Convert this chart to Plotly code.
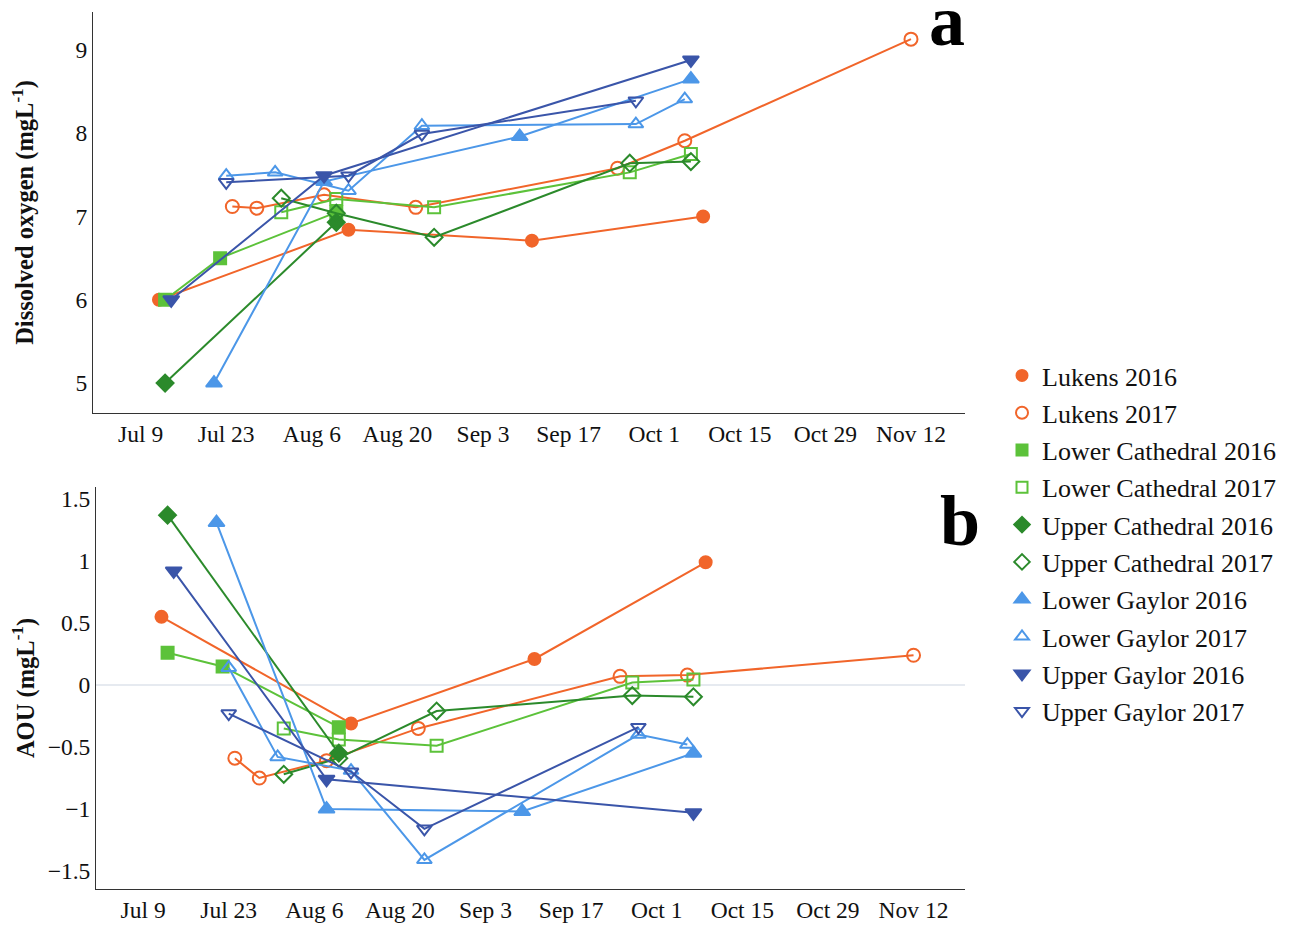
import plotly.graph_objects as go

# ---------------- data (month-day of sampling; DO in mg/L; AOU in mg/L) ----------------
series_names = ["Lukens 2016", "Lukens 2017", "Lower Cathedral 2016", "Lower Cathedral 2017",
                "Upper Cathedral 2016", "Upper Cathedral 2017", "Lower Gaylor 2016",
                "Lower Gaylor 2017", "Upper Gaylor 2016", "Upper Gaylor 2017"]

lukens_2016_dates = ["07-12", "08-12", "09-11", "10-09"]
lukens_2016_do = [6.00, 6.84, 6.71, 7.00]
lukens_2016_aou = [0.55, -0.31, 0.21, 0.99]

lukens_2017_dates = ["07-24", "07-28", "08-08", "08-23", "09-25", "10-06", "11-12"]
lukens_2017_do = [7.12, 7.10, 7.26, 7.11, 7.58, 7.91, 9.13]
lukens_2017_aou = [-0.59, -0.75, -0.61, -0.35, 0.07, 0.08, 0.24]

lower_cath_2016_dates = ["07-13", "07-22", "08-10"]
lower_cath_2016_do = [6.00, 6.50, 7.05]
lower_cath_2016_aou = [0.26, 0.15, -0.34]

lower_cath_2017_dates = ["08-01", "08-10", "08-26", "09-27", "10-07"]
lower_cath_2017_do = [7.05, 7.21, 7.11, 7.53, 7.75]
lower_cath_2017_aou = [-0.35, -0.44, -0.49, 0.02, 0.045]

upper_cath_2016_dates = ["07-13", "08-10"]
upper_cath_2016_do = [5.00, 6.93]
upper_cath_2016_aou = [1.37, -0.55]

upper_cath_2017_dates = ["08-01", "08-10", "08-26", "09-27", "10-07"]
upper_cath_2017_do = [7.22, 7.04, 6.75, 7.64, 7.66]
upper_cath_2017_aou = [-0.72, -0.59, -0.21, -0.085, -0.095]

lower_gay_2016_dates = ["07-21", "08-08", "09-09", "10-07"]
lower_gay_2016_do = [5.00, 7.42, 7.96, 8.65]
lower_gay_2016_aou = [1.31, -1.00, -1.02, -0.55]

lower_gay_2017_dates = ["07-23", "07-31", "08-12", "08-24", "09-28", "10-06"]
lower_gay_2017_do = [7.49, 7.53, 7.31, 8.09, 8.11, 8.41]
lower_gay_2017_aou = [0.14, -0.58, -0.69, -1.41, -0.40, -0.48]

upper_gay_2016_dates = ["07-14", "08-08", "10-07"]
upper_gay_2016_do = [6.00, 7.49, 8.88]
upper_gay_2016_aou = [0.92, -0.76, -1.03]

upper_gay_2017_dates = ["07-23", "08-12", "08-24", "09-28"]
upper_gay_2017_do = [7.41, 7.49, 7.99, 8.39]
upper_gay_2017_aou = [-0.23, -0.70, -1.16, -0.34]

# common display year so both field seasons share one month-day axis
display_year = "2017"

data = [
    (lukens_2016_dates, lukens_2016_do, lukens_2016_aou),
    (lukens_2017_dates, lukens_2017_do, lukens_2017_aou),
    (lower_cath_2016_dates, lower_cath_2016_do, lower_cath_2016_aou),
    (lower_cath_2017_dates, lower_cath_2017_do, lower_cath_2017_aou),
    (upper_cath_2016_dates, upper_cath_2016_do, upper_cath_2016_aou),
    (upper_cath_2017_dates, upper_cath_2017_do, upper_cath_2017_aou),
    (lower_gay_2016_dates, lower_gay_2016_do, lower_gay_2016_aou),
    (lower_gay_2017_dates, lower_gay_2017_do, lower_gay_2017_aou),
    (upper_gay_2016_dates, upper_gay_2016_do, upper_gay_2016_aou),
    (upper_gay_2017_dates, upper_gay_2017_do, upper_gay_2017_aou),
]

# ---------------- styles ----------------
ORANGE = "#F1652A"
LGREEN = "#5CC23A"
DGREEN = "#2B8A2B"
LBLUE = "#4C97E8"
DBLUE = "#3A55A9"
styles = [
    (ORANGE, "circle", 12),
    (ORANGE, "circle-open", 13),
    (LGREEN, "square", 12),
    (LGREEN, "square-open", 12),
    (DGREEN, "diamond", 13),
    (DGREEN, "diamond-open", 13),
    (LBLUE, "triangle-up", 14),
    (LBLUE, "triangle-up-open", 13),
    (DBLUE, "triangle-down", 14),
    (DBLUE, "triangle-down-open", 13),
]

FONT = "Liberation Serif, Times New Roman, serif"

fig = go.Figure()
for axes_pair, col in ((("x", "y"), 1), (("x2", "y2"), 2)):
    for i, (name, d, (color, sym, size)) in enumerate(zip(series_names, data, styles)):
        dates, yvals = d[0], d[col]
        x = [f"{display_year}-{m}" for m in dates]
        marker = dict(color=color, symbol=sym, size=size, line=dict(color=color, width=2))
        fig.add_trace(go.Scatter(x=x, y=yvals, mode="lines+markers", name=name,
                                 line=dict(color=color, width=2), marker=marker,
                                 showlegend=False, xaxis=axes_pair[0], yaxis=axes_pair[1]))

# legend entries: markers only (as in the reference legend)
for i, (name, (color, sym, size)) in enumerate(zip(series_names, styles)):
    fig.add_trace(go.Scatter(x=[None], y=[None], mode="markers", name=name,
                             marker=dict(color=color, symbol=sym, size=size - 1,
                                         line=dict(color=color, width=2)),
                             legendgroup=f"g{i}", showlegend=True,
                             xaxis="x", yaxis="y", hoverinfo="skip"))

W, H = 1293, 928
L, R, T, B = 93, 328, 12, 39
pw, ph = W - L - R, H - T - B

def ypaper(px):
    return (H - B - px) / ph

TICK = 23.5
x_common = dict(type="date", tickformat="%b %-d", dtick=14 * 86400000,
                tick0=f"{display_year}-07-09", showgrid=False, zeroline=False,
                showline=True, linecolor="#333333", linewidth=1, ticks="",
                tickfont=dict(family=FONT, size=TICK, color="#111111"))
y_common = dict(showgrid=False, showline=True, linecolor="#333333", linewidth=1,
                ticks="", tickfont=dict(family=FONT, size=TICK, color="#111111"))

fig.update_layout(
    width=W, height=H,
    margin=dict(l=L, r=R, t=T, b=B, autoexpand=False),
    paper_bgcolor="white", plot_bgcolor="white",
    font=dict(family=FONT, color="#111111"),
    xaxis=dict(x_common, domain=[0, 1], anchor="y",
               range=[f"{display_year}-07-01 05:00", f"{display_year}-11-20 20:00"]),
    yaxis=dict(y_common, domain=[ypaper(413), ypaper(12)], anchor="x",
               range=[4.64, 9.456], dtick=1, zeroline=False,
               title=dict(text="<b>Dissolved oxygen (mgL<sup>-1</sup>)</b>",
                          font=dict(family=FONT, size=24.5, color="#111111"), standoff=34)),
    xaxis2=dict(x_common, domain=[3 / pw, 1.0], anchor="y2",
                range=[f"{display_year}-07-01 07:00", f"{display_year}-11-20 10:00"]),
    yaxis2=dict(y_common, domain=[0, ypaper(487)], anchor="x2",
                range=[-1.645, 1.597], dtick=0.5, zeroline=True,
                zerolinecolor="#E6EAF0", zerolinewidth=2,
                title=dict(text="<b>AOU (mgL<sup>-1</sup>)</b>",
                           font=dict(family=FONT, size=24.5, color="#111111"), standoff=6)),
    legend=dict(x=(1002 - L) / pw, y=ypaper(352), xanchor="left", yanchor="top",
                font=dict(family=FONT, size=26, color="#111111"),
                traceorder="grouped", tracegroupgap=0.5, bgcolor="rgba(0,0,0,0)"),
    showlegend=True,
    annotations=[
        dict(text="<b>a</b>", xref="paper", yref="paper", x=(947 - L) / pw, y=ypaper(21),
             xanchor="center", yanchor="middle", showarrow=False,
             font=dict(family=FONT, size=72, color="black")),
        dict(text="<b>b</b>", xref="paper", yref="paper", x=(960 - L) / pw, y=ypaper(521),
             xanchor="center", yanchor="middle", showarrow=False,
             font=dict(family=FONT, size=72, color="black")),
    ],
)

fig.write_html("out.html")
